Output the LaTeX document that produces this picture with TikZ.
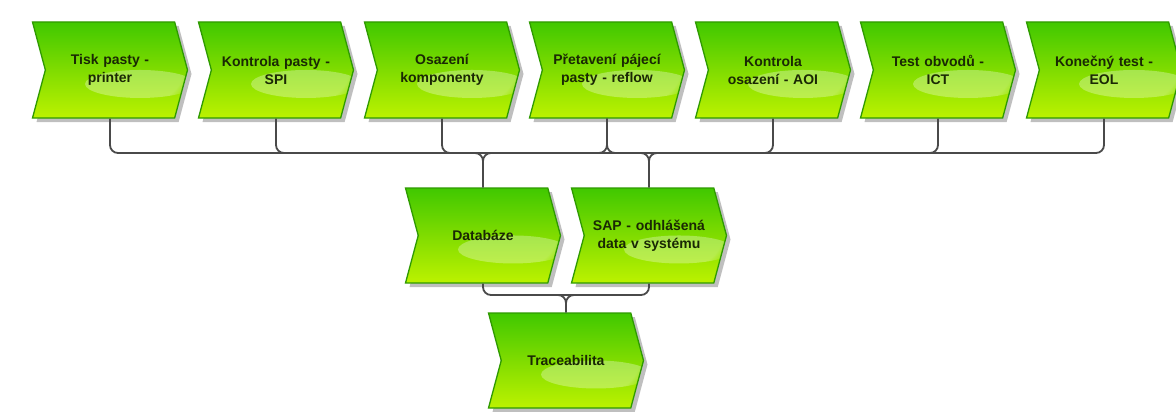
\documentclass[tikz,border=0pt]{standalone}
\usepackage{fontspec}
\setmainfont{Liberation Sans}
\usetikzlibrary{shapes.symbols,shadows,calc,fadings}
\definecolor{gtop}{HTML}{40C800}
\definecolor{gmid}{HTML}{80DC00}
\definecolor{gbot}{HTML}{BCF200}
\definecolor{gedge}{HTML}{2E9A00}
\definecolor{txt}{HTML}{1A2804}
\definecolor{conn}{HTML}{4A4A4A}
\begin{document}
\begin{tikzpicture}[x=1pt,y=-1pt,
  stepbox/.style={signal, signal from=west, signal to=east, signal pointer angle=150,
    minimum width=155pt, minimum height=96pt, inner sep=0pt, text width=128pt, align=center,
    top color=gtop, bottom color=gbot, middle color=gmid, draw=gedge, line width=1.3pt,
    font=\bfseries\fontsize{14}{18}\selectfont, text=txt,
    path picture={\fill[white, opacity=0.3, path fading=circle with fuzzy edge 15 percent]
      ($(path picture bounding box.center)+(30,14)$) ellipse [x radius=55pt, y radius=14pt];},
    drop shadow={shadow xshift=4pt, shadow yshift=-4pt, opacity=0.25, fill=black}},
  link/.style={draw=conn, line width=1.8pt, rounded corners=8pt}]
\useasboundingbox (0,0) rectangle (1176,412);
\node[stepbox] (t1) at (110,70) {Tisk pasty -\\printer};
\node[stepbox] (t2) at (276,70) {Kontrola pasty -\\SPI};
\node[stepbox] (t3) at (442,70) {Osazení\\komponenty};
\node[stepbox] (t4) at (607,70) {Přetavení pájecí\\pasty - reflow};
\node[stepbox] (t5) at (773,70) {Kontrola\\osazení - AOI};
\node[stepbox] (t6) at (938,70) {Test obvodů -\\ICT};
\node[stepbox] (t7) at (1104,70) {Konečný test -\\EOL};
\node[stepbox, minimum height=95pt] (db) at (483,235.5) {Databáze};
\node[stepbox, minimum height=95pt] (sap) at (649,235.5) {SAP - odhlášená\\data v systému};
\node[stepbox, minimum height=95pt] (tr) at (566,360.5) {Traceabilita};
\coordinate (bus) at (0,153);
\coordinate (bus2) at (0,295);
% upper bus
\draw[link] (t1.south) |- (bus -| t7.south) -- (t7.south);
\draw[link] (t2.south) |- ($(bus -| t2.south)+(16,0)$);
\draw[link] (t3.south) |- ($(bus -| t3.south)+(16,0)$);
\draw[link] (t4.south) |- ($(bus -| t4.south)+(16,0)$);
\draw[link] (t4.south) |- ($(bus -| t4.south)+(-16,0)$);
\draw[link] (t5.south) |- ($(bus -| t5.south)+(-16,0)$);
\draw[link] (t6.south) |- ($(bus -| t6.south)+(-16,0)$);
\draw[link] ($(bus -| db.north)+(-16,0)$) -| (db.north);
\draw[link] ($(bus -| db.north)+(16,0)$) -| (db.north);
\draw[link] ($(bus -| sap.north)+(-16,0)$) -| (sap.north);
\draw[link] ($(bus -| sap.north)+(16,0)$) -| (sap.north);
% lower bus
\draw[link] (db.south) |- (bus2 -| sap.south) -- (sap.south);
\draw[link] ($(bus2 -| tr.north)+(-16,0)$) -| (tr.north);
\draw[link] ($(bus2 -| tr.north)+(16,0)$) -| (tr.north);
\end{tikzpicture}
\end{document}
